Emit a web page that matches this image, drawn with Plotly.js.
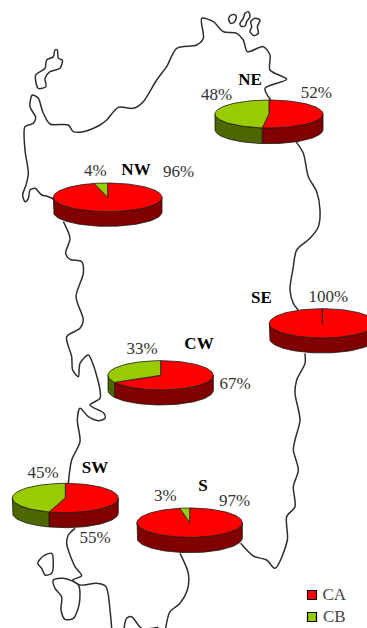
<!DOCTYPE html>
<html>
<head>
<meta charset="utf-8">
<script src="https://cdn.plot.ly/plotly-3.0.1.min.js"></script>
<style>html,body{margin:0;padding:0;background:#fff}#map{width:367px;height:628px}</style>
</head>
<body>
<div id="map"></div>
<script>
// Regional shares of the two groups
const regions = ['NE', 'NW', 'SE', 'CW', 'SW', 'S'];
const caShare = [52, 96, 100, 67, 55, 97];
const cbShare = [48, 4, 0, 33, 45, 3];
const groups = ['CA', 'CB'];

// Pie placement in map units
const pieX = [807, 323, 967, 482, 196, 569];
const pieY = [342, 592, 970, 1126, 1494, 1568];
const pieRx = [162, 163, 159, 158, 159, 158];
const pieRy = [42, 43, 44, 44, 44, 44];
const pieDepth = [47, 44, 45, 45, 45, 46];

// Label anchors in map units: region name, CA share, CB share
const nameAt = [[750, 241], [408, 513], [784, 897], [597, 1035], [285, 1405], [609, 1461]];
const caAt = [[949, 280], [536, 518], [985, 894], [705, 1153], [285, 1617], [704, 1504]];
const cbAt = [[650, 287], [286, 514], null, [426, 1049], [129, 1420], [496, 1490]];

// Legend anchors in map units
const legendSwatchAt = [[936, 1785], [936, 1851]];
const legendTextAt = [[1003, 1786], [1003, 1852]];

// Coastline pieces, broken where the pies sit on top
const coastNorth = [[160,597],[145,590],[125,585],[105,565],[90,570],[85,595],[75,605],[68,585],[78,555],[85,520],[75,450],[75,380],[100,370],[107,352],[90,320],[97,285],[115,295],[128,335],[150,372],[205,375],[220,395],[250,395],[300,375],[320,360],[355,322],[400,325],[430,305],[470,240],[500,200],[530,145],[590,135],[610,115],[605,55],[640,65],[670,95],[710,100],[730,120],[742,155],[790,140],[810,165],[810,210],[860,238],[795,265],[812,300]];
const coastEastUpper = [[888,425],[910,460],[925,530],[950,575],[960,630],[955,680],[930,715],[890,750],[880,800],[870,870],[880,910],[895,930]];
const coastEastLower = [[915,1060],[915,1090],[890,1140],[885,1180],[900,1260],[885,1320],[880,1350],[895,1410],[880,1460],[885,1520],[860,1550],[862,1620],[825,1705],[800,1680],[760,1668],[722,1630]];
const coastSouth = [[540,1660],[565,1720],[562,1770],[540,1810],[510,1835],[497,1885]];
const coastBay = [[475,1882],[425,1885],[395,1850],[380,1855],[372,1885]];
const coastSouthWest = [[335,1885],[330,1830],[318,1760],[290,1750],[240,1755],[218,1740],[245,1727],[225,1700],[200,1630],[205,1605],[225,1585]];
const coastWest = [[205,1450],[215,1380],[240,1325],[232,1260],[240,1225],[265,1250],[295,1262],[315,1255],[312,1240],[270,1215],[300,1195],[300,1170],[280,1095],[265,1065],[240,1090],[235,1130],[218,1110],[215,1070],[200,1010],[240,985],[250,960],[228,890],[250,820],[245,785],[210,778],[197,760],[210,715],[190,665]];

// Offshore islands
const isleAsinara = [[165,150],[172,150],[175,175],[187,180],[180,205],[150,215],[135,235],[138,260],[115,265],[107,225],[135,205],[140,180],[160,170],[165,150]];
const isleNorthA = [[686,57],[692,46],[705,44],[709,52],[703,66],[692,70],[686,57]];
const isleNorthB = [[720,70],[730,55],[735,40],[745,35],[750,50],[740,65],[735,78],[722,78],[720,70]];
const isleNorthC = [[752,65],[765,55],[780,60],[772,80],[775,100],[762,107],[750,95],[755,80],[752,65]];
const isleSouthA = [[113,1690],[130,1668],[155,1660],[160,1690],[155,1720],[135,1725],[125,1705],[113,1690]];
const isleSouthB = [[160,1740],[190,1735],[235,1755],[238,1810],[220,1855],[195,1858],[183,1830],[185,1790],[165,1765],[160,1740]];

const coastPieces = [coastNorth, coastEastUpper, coastEastLower, coastSouth, coastBay, coastSouthWest, coastWest,
  isleAsinara, isleNorthA, isleNorthB, isleNorthC, isleSouthA, isleSouthB];

const RED = '#ff0000', RED_DARK = '#800000', GREEN = '#99cc00', GREEN_DARK = '#4d6600';
const EDGE = '#1a1a1a', INK = '#333333';
const SERIF = '"Liberation Serif", "Times New Roman", serif';

const traces = [];

coastPieces.forEach(p => traces.push({
  type: 'scatter', mode: 'lines', x: p.map(q => q[0]), y: p.map(q => q[1]),
  line: {color: '#2e2e2e', width: 1.5, shape: 'spline', smoothing: 0.8},
  hoverinfo: 'skip', showlegend: false
}));

// A filled polygon with a thin dark edge
function poly(xs, ys, fill) {
  traces.push({
    type: 'scatter', mode: 'lines', x: xs, y: ys, fill: 'toself', fillcolor: fill,
    line: {color: EDGE, width: 0.8}, hoverinfo: 'skip', showlegend: false
  });
}

// Angles run clockwise from twelve o'clock, in degrees
function rimX(i, a) { return pieX[i] + pieRx[i] * Math.sin(a * Math.PI / 180); }
function rimY(i, a) { return pieY[i] - pieRy[i] * Math.cos(a * Math.PI / 180); }

function arc(from, to) {
  const out = [];
  const n = Math.max(1, Math.ceil((to - from) / 3));
  for (let k = 0; k <= n; k++) out.push(from + (to - from) * k / n);
  return out;
}

regions.forEach((name, i) => {
  const split = caShare[i] * 3.6;
  const slices = [
    {from: 0, to: split, top: RED, side: RED_DARK},
    {from: split, to: 360, top: GREEN, side: GREEN_DARK}
  ].filter(s => s.to > s.from);

  // Wall of the disc: only the part of each slice on the near half shows
  slices.forEach(s => {
    const a = Math.max(s.from, 90), b = Math.min(s.to, 270);
    if (b <= a) return;
    const angles = arc(a, b);
    const xs = angles.map(t => rimX(i, t));
    const ys = angles.map(t => rimY(i, t));
    const back = angles.slice().reverse();
    poly(xs.concat(back.map(t => rimX(i, t)), [xs[0]]),
         ys.concat(back.map(t => rimY(i, t) + pieDepth[i]), [ys[0]]), s.side);
  });

  // Top face, each slice closed through the pie centre
  slices.forEach(s => {
    const angles = arc(s.from, s.to);
    poly([pieX[i]].concat(angles.map(t => rimX(i, t)), [pieX[i]]),
         [pieY[i]].concat(angles.map(t => rimY(i, t)), [pieY[i]]), s.top);
  });
});

// Region names and percentage labels
function labels(points, texts, font) {
  const keep = points.map((p, i) => i).filter(i => points[i]);
  traces.push({
    type: 'scatter', mode: 'text',
    x: keep.map(i => points[i][0]), y: keep.map(i => points[i][1]),
    text: keep.map(i => texts[i]), textposition: 'middle center',
    textfont: font, hoverinfo: 'skip', showlegend: false
  });
}
labels(nameAt, regions, {family: SERIF, size: 17, color: '#000000', weight: 700});
labels(caAt, caShare.map(v => v + '%'), {family: SERIF, size: 17, color: INK});
labels(cbAt, cbShare.map(v => v + '%'), {family: SERIF, size: 17, color: INK});

// Legend swatches and their names
traces.push({
  type: 'scatter', mode: 'markers',
  x: legendSwatchAt.map(p => p[0]), y: legendSwatchAt.map(p => p[1]),
  marker: {symbol: 'square', size: 9, color: [RED, GREEN], line: {color: '#000000', width: 1.2}},
  hoverinfo: 'skip', showlegend: false
});
labels(legendTextAt, groups, {family: SERIF, size: 17, color: '#444444'});

const layout = {
  width: 367, height: 628,
  margin: {l: 0, r: 0, t: 0, b: 0},
  paper_bgcolor: '#ffffff', plot_bgcolor: '#ffffff',
  xaxis: {range: [0, 1101], visible: false, fixedrange: true},
  yaxis: {range: [1884, 0], visible: false, fixedrange: true},
  showlegend: false
};

Plotly.newPlot('map', traces, layout, {displayModeBar: false, staticPlot: true});
</script>
</body>
</html>
